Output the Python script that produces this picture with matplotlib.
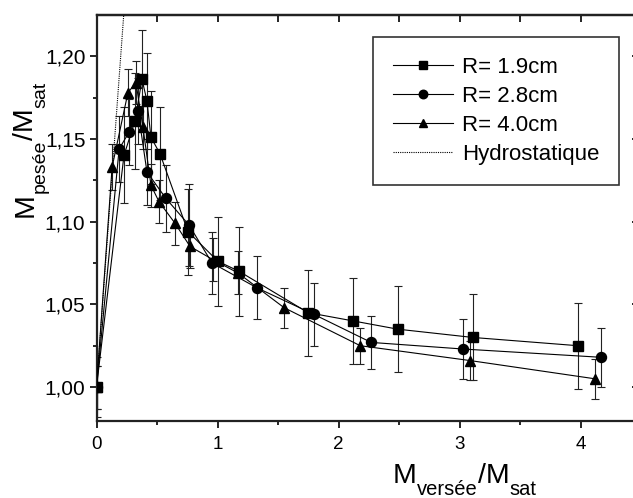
import numpy as np
import matplotlib
matplotlib.use('Agg')
import matplotlib.pyplot as plt
from matplotlib.ticker import MultipleLocator, FuncFormatter

plt.rcParams['font.family'] = ['Liberation Sans', 'DejaVu Sans']

# R = 1.9 cm (squares)
x_19 = [0.0, 0.227, 0.318, 0.376, 0.417, 0.45, 0.525, 0.756, 1.004, 1.178, 1.748, 2.12, 2.49, 3.11, 3.98]
y_19 = [1.000, 1.140, 1.161, 1.186, 1.173, 1.151, 1.141, 1.094, 1.076, 1.070, 1.045, 1.040, 1.035, 1.030, 1.025]
e_19 = [0.013, 0.029, 0.029, 0.030, 0.029, 0.028, 0.028, 0.026, 0.027, 0.027, 0.026, 0.026, 0.026, 0.026, 0.026]

# R = 2.8 cm (circles)
x_28 = [0.0, 0.187, 0.269, 0.343, 0.417, 0.574, 0.764, 0.955, 1.326, 1.795, 2.27, 3.03, 4.17]
y_28 = [1.000, 1.144, 1.154, 1.167, 1.130, 1.114, 1.098, 1.075, 1.060, 1.044, 1.027, 1.023, 1.018]
e_28 = [0.018, 0.020, 0.020, 0.020, 0.020, 0.020, 0.025, 0.019, 0.019, 0.019, 0.016, 0.018, 0.018]

# R = 4.0 cm (triangles)
x_40 = [0.0, 0.129, 0.26, 0.326, 0.384, 0.45, 0.517, 0.649, 0.773, 0.963, 1.169, 1.55, 2.18, 3.09, 4.12]
y_40 = [1.000, 1.133, 1.178, 1.184, 1.157, 1.122, 1.112, 1.099, 1.085, 1.077, 1.069, 1.048, 1.025, 1.016, 1.005]
e_40 = [0.013, 0.014, 0.014, 0.013, 0.013, 0.013, 0.013, 0.013, 0.013, 0.013, 0.013, 0.012, 0.011, 0.012, 0.012]

# hydrostatic line
x_hydro = [0.0, 0.25]
y_hydro = [1.0, 1.25]

labels = ['R= 1.9cm', 'R= 2.8cm', 'R= 4.0cm', 'Hydrostatique']

W, H = 633, 498
fig = plt.figure(figsize=(W/100, H/100), dpi=100)
ax = fig.add_axes([96.5/W, 77/H, 538/W, 406/H])

series = [(x_19, y_19, e_19, 's', 6.5), (x_28, y_28, e_28, 'o', 7.2), (x_40, y_40, e_40, '^', 7.5)]
for (xs, ys, es, mk, ms), lab in zip(series, labels):
    ax.errorbar(xs, ys, yerr=es, fmt='none', ecolor='#222222', elinewidth=0.8,
                capsize=3.2, capthick=0.8, zorder=2)
    ax.plot(xs, ys, color='black', lw=0.8, marker=mk, ms=ms, mfc='black',
            mec='black', label=lab, zorder=3)
ax.plot(x_hydro, y_hydro, color='black', lw=0.8, ls=(0, (1, 1)), label=labels[3], zorder=3)

ax.set_xlim(0, 4.446)
ax.set_ylim(0.9795, 1.2249)

ax.xaxis.set_major_locator(MultipleLocator(1))
ax.xaxis.set_minor_locator(MultipleLocator(0.5))
ax.yaxis.set_major_locator(MultipleLocator(0.05))
ax.yaxis.set_minor_locator(MultipleLocator(0.025))
ax.yaxis.set_major_formatter(FuncFormatter(lambda v, p: ('%.2f' % v).replace('.', ',')))
ax.xaxis.set_major_formatter(FuncFormatter(lambda v, p: '%d' % v))

ax.tick_params(axis='x', which='major', direction='out', length=5, width=1.2, labelsize=13.5, pad=6)
ax.tick_params(axis='x', which='minor', direction='out', length=3, width=1.2)
ax.tick_params(axis='y', which='major', direction='out', length=5, width=1.2, labelsize=15, pad=3)
ax.tick_params(axis='y', which='minor', direction='out', length=3, width=1.2)
for s in ax.spines.values():
    s.set_linewidth(1.6)
    s.set_color('#222222')

top = ax.secondary_xaxis('top')
top.xaxis.set_major_locator(MultipleLocator(0.5))
top.tick_params(direction='in', length=5, width=1.2, labeltop=False)
top.spines['top'].set_linewidth(1.6)
right = ax.secondary_yaxis('right')
right.yaxis.set_major_locator(MultipleLocator(0.05))
right.tick_params(direction='in', length=2, width=1.2, labelright=False)

leg = ax.legend(loc='upper right', bbox_to_anchor=(619/W, 1 - 37/H), bbox_transform=fig.transFigure,
                borderaxespad=0, fontsize=16, frameon=True, fancybox=False, edgecolor='#333333',
                framealpha=1, numpoints=1, handlelength=2.7, handletextpad=0.4,
                labelspacing=0.36, borderpad=0.9, markerscale=0.85)
leg.get_frame().set_linewidth(1.2)

# x label built from pieces
xb = 1 - 483/H
xs_b = 1 - 495/H
t1 = fig.text(393/W, xb, 'M', fontsize=20.5, va='baseline', ha='left')
t2 = ax.annotate('versée', xy=(1, xs_b), xycoords=(t1, 'figure fraction'), fontsize=14.5,
                 va='baseline', ha='left', annotation_clip=False)
t3 = ax.annotate('/M', xy=(1, xb), xycoords=(t2, 'figure fraction'), fontsize=20.5,
                 va='baseline', ha='left', annotation_clip=False)
ax.annotate('sat', xy=(1, xs_b), xycoords=(t3, 'figure fraction'), fontsize=14.5,
            va='baseline', ha='left', annotation_clip=False)

# y label built from pieces
yb = 33/W
ys_b = 45/W
u1 = fig.text(yb, 1 - 217/H, 'M', fontsize=20.5, rotation=90, rotation_mode='anchor',
              va='baseline', ha='left')
u2 = ax.annotate('pesée', xy=(ys_b, 1), xycoords=('figure fraction', u1), fontsize=14, rotation=90,
                 rotation_mode='anchor', va='baseline', ha='left', annotation_clip=False)
u3 = ax.annotate('/M', xy=(yb, 1), xycoords=('figure fraction', u2), fontsize=20.5, rotation=90,
                 rotation_mode='anchor', va='baseline', ha='left', annotation_clip=False)
ax.annotate('sat', xy=(ys_b, 1), xycoords=('figure fraction', u3), fontsize=14, rotation=90,
            rotation_mode='anchor', va='baseline', ha='left', annotation_clip=False)

fig.savefig('out.png', dpi=100)
